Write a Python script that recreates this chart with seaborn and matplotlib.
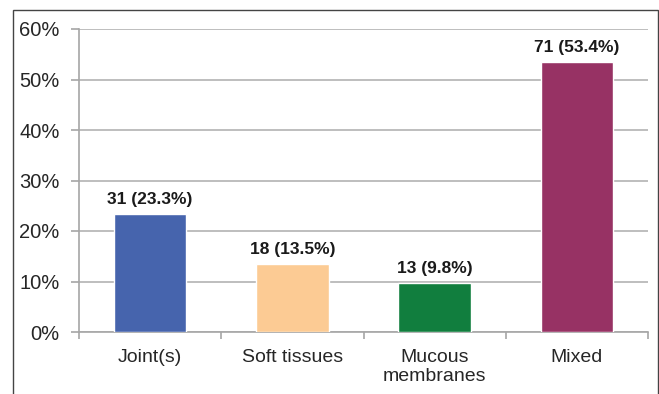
import matplotlib
matplotlib.use("Agg")
import matplotlib.pyplot as plt
from matplotlib.patches import Rectangle
from matplotlib.ticker import FuncFormatter, FixedLocator
import seaborn as sns
import pandas as pd

categories = ["Joint(s)", "Soft tissues", "Mucous\nmembranes", "Mixed"]
counts = [31, 18, 13, 71]
percents = [23.3, 13.5, 9.8, 53.4]
colors = ["#4664AD", "#FCCB94", "#117E3E", "#973264"]

sns.set_theme(style="white")
plt.rcParams["font.family"] = ["Liberation Sans", "DejaVu Sans"]

W, H = 659, 394
fig = plt.figure(figsize=(W / 100, H / 100), dpi=100)
ax = fig.add_axes([79 / W, 1 - 332 / H, (648 - 79) / W, (332 - 29) / H])

df = pd.DataFrame({"category": categories, "percent": percents})
sns.barplot(data=df, x="category", y="percent", hue="category",
            palette=colors, width=0.51, legend=False, ax=ax, zorder=3,
            saturation=1)

ax.set_ylim(0, 60)
ax.set_xlim(-0.5, 3.5)
ax.set_yticks(range(0, 61, 10))
ax.yaxis.set_major_formatter(FuncFormatter(lambda v, _: f"{v:.0f}%"))
ax.grid(axis="y", color="#B3B3B3", linewidth=1.2, zorder=0)
ax.set_axisbelow(True)

for s in ["top", "right"]:
    ax.spines[s].set_visible(False)
for s in ["left", "bottom"]:
    ax.spines[s].set_color("#A6A6A6")
    ax.spines[s].set_linewidth(1.2)

ax.tick_params(axis="y", length=6, width=1.2, color="#A6A6A6", left=True,
               labelsize=14.5, labelcolor="#262626", pad=8)
ax.tick_params(axis="x", which="major", length=0, labelsize=14,
               labelcolor="#262626", pad=12)
ax.xaxis.set_minor_locator(FixedLocator([-0.5, 0.5, 1.5, 2.5, 3.5]))
ax.tick_params(axis="x", which="minor", bottom=True, length=5, width=1.2,
               color="#A6A6A6")
for lbl in ax.get_xticklabels():
    lbl.set_linespacing(1.15)
    lbl.set_verticalalignment("top")

ax.set_xlabel("")
ax.set_ylabel("")

for i, (c, p) in enumerate(zip(counts, percents)):
    ax.annotate(f"{c} ({p}%)", (i, p), xytext=(0, 5), textcoords="offset points",
                ha="center", va="bottom", fontsize=12.5, fontweight="bold",
                color="#1A1A1A")

fig.patches.append(Rectangle((13 / W, -0.05), (658 - 13) / W, (H - 10) / H + 0.05,
                             transform=fig.transFigure, fill=False,
                             edgecolor="#444444", linewidth=1.0))

fig.savefig("out.png", dpi=100)
